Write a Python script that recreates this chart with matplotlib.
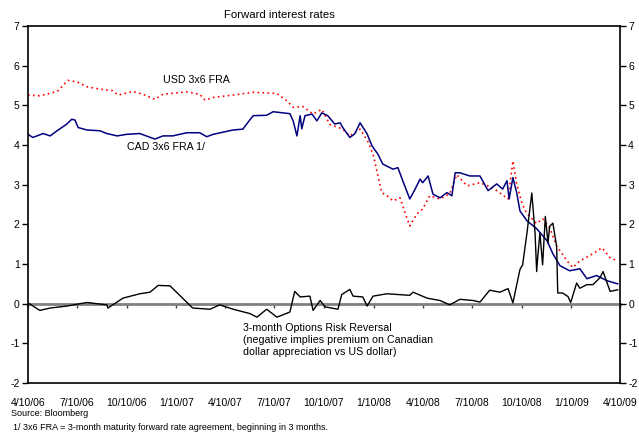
import matplotlib
matplotlib.use("Agg")
import matplotlib.pyplot as plt
import pandas as pd

plt.rcParams['font.family'] = ['Liberation Sans', 'DejaVu Sans']
plt.rcParams['axes.unicode_minus'] = False

# USD 3x6 FRA (red dotted)
usd_dates = ["2006-04-10", "2006-05-02", "2006-06-03", "2006-06-23", "2006-07-10",
             "2006-07-28", "2006-08-21", "2006-09-14", "2006-09-24", "2006-10-21",
             "2006-11-09", "2006-12-01", "2006-12-16", "2007-01-29", "2007-02-22",
             "2007-03-04", "2007-03-19", "2007-04-25", "2007-06-01", "2007-07-15",
             "2007-08-03", "2007-08-14", "2007-09-01", "2007-09-20", "2007-10-06",
             "2007-10-21", "2007-11-14", "2007-11-27", "2007-12-16", "2007-12-30",
             "2008-01-09", "2008-01-16", "2008-01-25", "2008-02-04", "2008-02-15",
             "2008-02-28", "2008-03-08", "2008-03-17", "2008-03-30", "2008-04-10",
             "2008-04-23", "2008-05-12", "2008-05-30", "2008-06-12", "2008-07-01",
             "2008-07-25", "2008-08-18", "2008-09-15", "2008-09-24", "2008-10-01",
             "2008-10-11", "2008-10-20", "2008-11-07", "2008-11-18", "2008-12-01",
             "2008-12-14", "2009-01-02", "2009-01-13", "2009-01-26", "2009-02-13",
             "2009-03-08", "2009-03-23", "2009-04-06"]
usd_vals = [5.26, 5.24, 5.35, 5.63, 5.59,
            5.47, 5.41, 5.37, 5.26, 5.35,
            5.28, 5.15, 5.28, 5.34, 5.28,
            5.13, 5.20, 5.26, 5.33, 5.30,
            5.11, 4.95, 4.97, 4.78, 4.90,
            4.52, 4.40, 4.23, 4.40, 4.10,
            3.77, 3.35, 2.80, 2.72, 2.59,
            2.67, 2.30, 1.96, 2.26, 2.39,
            2.72, 2.64, 2.77, 3.25, 2.97,
            3.05, 2.92, 2.64, 3.60, 3.02,
            2.52, 2.27, 2.02, 2.14, 1.91,
            1.46, 1.08, 0.91, 1.08, 1.21,
            1.41, 1.16, 1.08]

# CAD 3x6 FRA (navy)
cad_dates = ["2006-04-10", "2006-04-19", "2006-05-08", "2006-05-21", "2006-06-03",
             "2006-06-21", "2006-06-30", "2006-07-06", "2006-07-12", "2006-07-28",
             "2006-08-21", "2006-09-03", "2006-09-22", "2006-10-10", "2006-11-03",
             "2006-12-01", "2006-12-16", "2007-01-03", "2007-01-29", "2007-02-22",
             "2007-03-07", "2007-03-19", "2007-04-25", "2007-05-13", "2007-05-20",
             "2007-06-01", "2007-06-26", "2007-07-08", "2007-08-08", "2007-08-14",
             "2007-08-21", "2007-08-27", "2007-08-30", "2007-09-05", "2007-09-18",
             "2007-09-27", "2007-10-06", "2007-10-17", "2007-10-30", "2007-11-09",
             "2007-11-14", "2007-11-27", "2007-12-06", "2007-12-16", "2007-12-29",
             "2008-01-07", "2008-01-18", "2008-01-27", "2008-02-15", "2008-02-24",
             "2008-03-04", "2008-03-17", "2008-03-27", "2008-04-05", "2008-04-10",
             "2008-04-20", "2008-04-29", "2008-05-12", "2008-05-25", "2008-06-03",
             "2008-06-09", "2008-06-18", "2008-07-06", "2008-07-25", "2008-08-09",
             "2008-08-25", "2008-09-05", "2008-09-13", "2008-09-17", "2008-09-24",
             "2008-10-01", "2008-10-07", "2008-10-20", "2008-11-07", "2008-11-26",
             "2008-12-07", "2008-12-20", "2009-01-07", "2009-01-26", "2009-02-08",
             "2009-02-26", "2009-03-17", "2009-04-06"]
cad_vals = [4.27, 4.19, 4.29, 4.23, 4.36,
            4.53, 4.65, 4.63, 4.44, 4.38,
            4.36, 4.29, 4.23, 4.27, 4.29,
            4.15, 4.23, 4.23, 4.31, 4.31,
            4.21, 4.27, 4.38, 4.40, 4.53,
            4.74, 4.75, 4.84, 4.79, 4.61,
            4.23, 4.74, 4.41, 4.74, 4.78,
            4.61, 4.81, 4.74, 4.53, 4.56,
            4.44, 4.19, 4.28, 4.56, 4.28,
            3.98, 3.77, 3.52, 3.39, 3.43,
            3.10, 2.64, 2.89, 3.14, 3.05,
            3.22, 2.76, 2.67, 2.80, 2.72,
            3.30, 3.30, 3.22, 3.22, 2.85,
            3.02, 2.89, 3.10, 2.64, 3.18,
            2.80, 2.34, 2.09, 1.89, 1.59,
            1.26, 0.96, 0.83, 0.88, 0.63,
            0.71, 0.58, 0.50]

# 3-month options risk reversal (black)
rr_dates = ["2006-04-10", "2006-05-02", "2006-05-21", "2006-06-21", "2006-07-28",
            "2006-09-03", "2006-09-05", "2006-10-03", "2006-11-03", "2006-11-22",
            "2006-12-07", "2006-12-29", "2007-01-16", "2007-02-09", "2007-03-13",
            "2007-03-31", "2007-04-25", "2007-05-26", "2007-06-08", "2007-06-26",
            "2007-07-15", "2007-08-08", "2007-08-17", "2007-08-27", "2007-09-14",
            "2007-09-20", "2007-10-03", "2007-10-12", "2007-11-05", "2007-11-12",
            "2007-11-27", "2007-12-03", "2007-12-21", "2007-12-29", "2008-01-09",
            "2008-02-04", "2008-03-17", "2008-03-23", "2008-04-18", "2008-05-12",
            "2008-05-30", "2008-06-18", "2008-07-12", "2008-07-25", "2008-08-12",
            "2008-08-31", "2008-09-15", "2008-09-24", "2008-10-07", "2008-10-12",
            "2008-10-20", "2008-10-29", "2008-11-04", "2008-11-07", "2008-11-09",
            "2008-11-13", "2008-11-18", "2008-11-23", "2008-11-28", "2008-12-01",
            "2008-12-07", "2008-12-14", "2008-12-16", "2008-12-25", "2009-01-04",
            "2009-01-09", "2009-01-20", "2009-01-26", "2009-02-08", "2009-02-19",
            "2009-03-04", "2009-03-10", "2009-03-23", "2009-04-06"]
rr_vals = [0.02, -0.17, -0.11, -0.06, 0.03,
           -0.03, -0.11, 0.14, 0.25, 0.29,
           0.46, 0.45, 0.21, -0.11, -0.14,
           -0.03, -0.14, -0.25, -0.34, -0.14,
           -0.34, -0.21, 0.31, 0.17, 0.19,
           -0.17, 0.08, -0.08, -0.14, 0.23,
           0.36, 0.19, 0.17, -0.06, 0.19,
           0.25, 0.21, 0.29, 0.14, 0.08,
           -0.03, 0.11, 0.08, 0.04, 0.34,
           0.29, 0.38, 0.02, 0.86, 0.98,
           1.78, 2.79, 1.78, 0.81, 1.19,
           1.78, 0.98, 2.20, 1.53, 1.95,
           2.03, 1.44, 0.27, 0.27, 0.18,
           0.03, 0.52, 0.39, 0.48, 0.48,
           0.65, 0.81, 0.31, 0.35]

tick_dates = ["2006-04-10", "2006-07-10", "2006-10-10", "2007-01-10", "2007-04-10",
              "2007-07-10", "2007-10-10", "2008-01-10", "2008-04-10", "2008-07-10",
              "2008-10-10", "2009-01-10", "2009-04-10"]
tick_labels = ["4/10/06", "7/10/06", "10/10/06", "1/10/07", "4/10/07", "7/10/07",
               "10/10/07", "1/10/08", "4/10/08", "7/10/08", "10/10/08", "1/10/09",
               "4/10/09"]

usd_dates = pd.to_datetime(usd_dates)
cad_dates = pd.to_datetime(cad_dates)
rr_dates = pd.to_datetime(rr_dates)
tick_dates = pd.to_datetime(tick_dates)

fig = plt.figure(figsize=(6.39, 4.34), dpi=100)
ax = fig.add_axes([0.0438, 0.1175, 0.9262, 0.8225])

ax.plot(usd_dates, usd_vals, color="#ff0000", lw=1.2, linestyle=(0, (1, 2)))
ax.plot(cad_dates, cad_vals, color="#000080", lw=1.1)
ax.plot(rr_dates, rr_vals, color="black", lw=1.0)

ax.set_ylim(-2, 7)
ax.set_xlim(tick_dates[0], tick_dates[-1])
ax.set_yticks(range(-2, 8))

ax.set_xticks(tick_dates)
ax.set_xticklabels(tick_labels)
ax.tick_params(axis="x", length=0, pad=11, labelsize=7.5)
ax.tick_params(axis="y", direction="out", length=4, width=1, pad=2, labelsize=7.5,
               left=True, right=True, labelleft=True, labelright=True)
for s in ax.spines.values():
    s.set_linewidth(1.2)

# zero line with its own tick marks
zero_ax = ax.secondary_xaxis(2 / 9)
zero_ax.set_xticks(tick_dates)
zero_ax.set_xticklabels([])
zero_ax.tick_params(direction="out", length=3, width=1, color="#404040")
zero_ax.spines["bottom"].set_color("#808080")
zero_ax.spines["bottom"].set_linewidth(2)

fig.text(0.437, 0.965, "Forward interest rates", ha="center", va="center", fontsize=8.2)
ax.annotate("USD 3x6 FRA", xy=(163 / 639, 1 - 80 / 434), xycoords="figure fraction",
            ha="left", va="center", fontsize=7.7)
ax.annotate("CAD 3x6 FRA 1/", xy=(127 / 639, 1 - 147 / 434), xycoords="figure fraction",
            ha="left", va="center", fontsize=7.7)
ax.annotate("3-month Options Risk Reversal\n(negative implies premium on Canadian\n"
            "dollar appreciation vs US dollar)",
            xy=(243 / 639, 1 - 323 / 434), xycoords="figure fraction",
            ha="left", va="top", fontsize=7.7, linespacing=1.25)

fig.text(11 / 639, 1 - 413 / 434, "Source: Bloomberg", ha="left", va="center", fontsize=6.5)
fig.text(13 / 639, 1 - 427 / 434,
         "1/ 3x6 FRA = 3-month maturity forward rate agreement, beginning in 3 months.",
         ha="left", va="center", fontsize=6.5)

fig.savefig("out.png", dpi=100)
